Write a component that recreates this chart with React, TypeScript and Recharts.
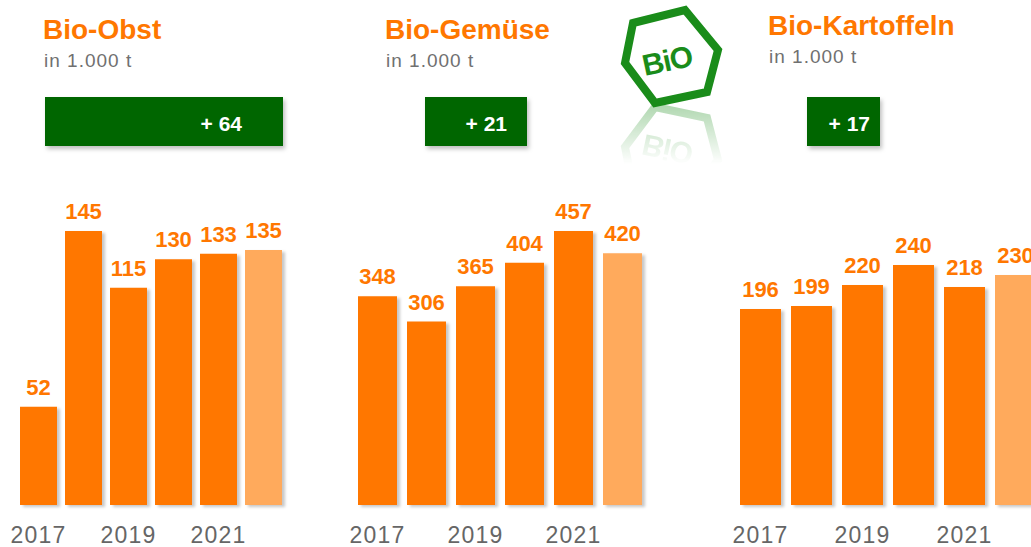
import * as React from "react";
import { BarChart, Bar, XAxis, YAxis, Cell, LabelList } from "recharts";

const years = ["2017", "2018", "2019", "2020", "2021", "2022"];
const obst = [52, 145, 115, 130, 133, 135];
const gemuese = [348, 306, 365, 404, 457, 420];
const kartoffeln = [196, 199, 220, 240, 218, 230];
const titles = ["Bio-Obst", "Bio-Gemüse", "Bio-Kartoffeln"];
const changes = [64, 21, 17];

const ORANGE = "#ff7700";
const LIGHT = "#ffaa5c";
const GREEN = "#056605";
const FONT = "'Liberation Sans', Arial, sans-serif";
const PAD = 20;

function Panel({
  values,
  left,
  width,
  barSize,
  top,
  id,
}: {
  values: number[];
  left: number;
  width: number;
  barSize: number;
  top: number;
  id: string;
}) {
  const data = years.map((year, i) => ({ year, v: values[i] }));
  const max = Math.max(...values);
  return (
    <div style={{ position: "absolute", left: left - PAD, top: 180 }}>
      <BarChart
        width={width + 2 * PAD}
        height={367}
        data={data}
        margin={{ top, right: PAD, bottom: 0, left: PAD }}
      >
        <defs>
          <filter id={`sh-${id}`} x="-20%" y="-10%" width="150%" height="130%">
            <feDropShadow dx="3" dy="2" stdDeviation="1.5" floodColor="#000" floodOpacity="0.22" />
          </filter>
        </defs>
        <XAxis
          dataKey="year"
          interval={1}
          tickLine={false}
          axisLine={false}
          height={42}
          tickMargin={16}
          tick={{ fill: "#666", fontSize: 23, fontFamily: FONT, letterSpacing: 1.2 }}
        />
        <YAxis hide domain={[0, max]} />
        <Bar dataKey="v" barSize={barSize} isAnimationActive={false}>
          {data.map((_, i) => (
            <Cell key={i} fill={i === data.length - 1 ? LIGHT : ORANGE} filter={`url(#sh-${id})`} />
          ))}
          <LabelList
            dataKey="v"
            position="top"
            offset={12}
            fill={ORANGE}
            fontSize={22}
            fontWeight="bold"
            fontFamily={FONT}
          />
        </Bar>
      </BarChart>
    </div>
  );
}

const HEX = "633,23 685,10 718,50 707,92 655,103 625,63";

function Logo() {
  return (
    <>
      <polygon points={HEX} fill="#fff" stroke="#1a8c1a" strokeWidth={8} />
      <text
        x={667}
        y={71}
        fill="#1a8c1a"
        fontSize={30}
        fontWeight="bold"
        fontFamily={FONT}
        textAnchor="middle"
        letterSpacing={-1}
        transform="rotate(-12 667 60)"
      >
        BiO
      </text>
    </>
  );
}

function Header() {
  const heads = [
    { x: 43, base: 39, box: [45, 238], textEnd: 242 },
    { x: 385, base: 39, box: [425, 102], textEnd: 507 },
    { x: 768, base: 35, box: [807, 73], textEnd: 870 },
  ];
  return (
    <svg width={1031} height={547} style={{ position: "absolute", left: 0, top: 0 }}>
      <defs>
        <filter id="boxsh" x="-10%" y="-20%" width="130%" height="150%">
          <feDropShadow dx="2" dy="3" stdDeviation="2" floodColor="#000" floodOpacity="0.25" />
        </filter>
        <linearGradient id="refl" x1="0" y1="0" x2="0" y2="1">
          <stop offset="0%" stopColor="#fff" stopOpacity={0.35} />
          <stop offset="100%" stopColor="#fff" stopOpacity={0} />
        </linearGradient>
        <mask id="reflMask">
          <rect x={600} y={104} width={140} height={60} fill="url(#refl)" />
        </mask>
      </defs>
      {heads.map((h, i) => (
        <g key={i} fontFamily={FONT}>
          <text x={h.x} y={h.base} fill={ORANGE} fontSize={28} fontWeight="bold">
            {titles[i]}
          </text>
          <text x={h.x + 1} y={h.base + 28} fill="#707070" fontSize={19} letterSpacing={1}>
            in 1.000 t
          </text>
          <rect x={h.box[0]} y={97} width={h.box[1]} height={49} fill={GREEN} filter="url(#boxsh)" />
          <text x={h.textEnd} y={131} fill="#fff" fontSize={21} fontWeight="bold" textAnchor="end">
            {`+ ${changes[i]}`}
          </text>
        </g>
      ))}
      <Logo />
      <g mask="url(#reflMask)">
        <g transform="translate(0 210) scale(1 -1)">
          <Logo />
        </g>
      </g>
    </svg>
  );
}

export default function App() {
  return (
    <div
      style={{
        position: "fixed",
        left: 0,
        top: 0,
        width: 1031,
        height: 547,
        overflow: "hidden",
        background: "#fff",
        fontFamily: FONT,
      }}
    >
      <Header />
      <Panel id="a" values={obst} left={16} width={270} barSize={37} top={51} />
      <Panel id="b" values={gemuese} left={353} width={294} barSize={39} top={51} />
      <Panel id="c" values={kartoffeln} left={735} width={306} barSize={41} top={85} />
    </div>
  );
}
